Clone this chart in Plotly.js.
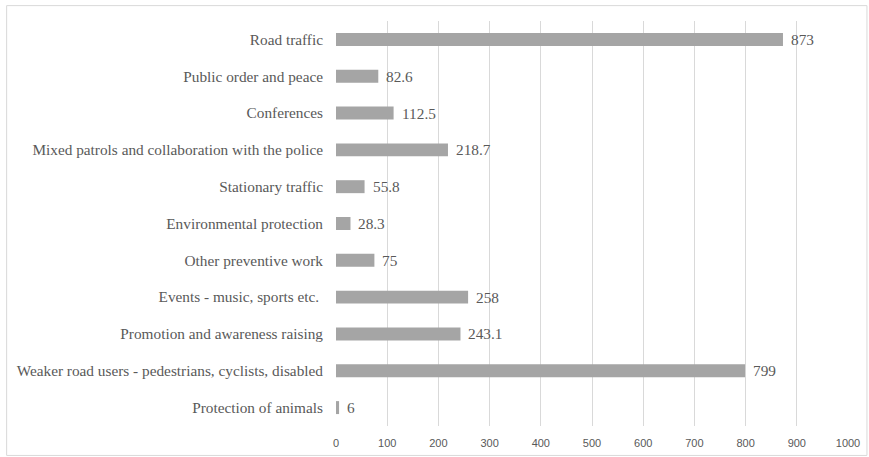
<!DOCTYPE html>
<html><head><meta charset="utf-8">
<script src="https://cdn.plot.ly/plotly-3.0.1.min.js"></script>
<style>body{margin:0;background:#fff}#c{width:869px;height:457px}</style>
</head><body><div id="c"></div>
<script>
const categories = [
  "Road traffic",
  "Public order and peace",
  "Conferences",
  "Mixed patrols and collaboration with the police",
  "Stationary traffic",
  "Environmental protection",
  "Other preventive work",
  "Events - music, sports etc. ",
  "Promotion and awareness raising",
  "Weaker road users - pedestrians, cyclists, disabled",
  "Protection of animals"
];
const values = [873, 82.6, 112.5, 218.7, 55.8, 28.3, 75, 258, 243.1, 799, 6];
const xTicks = [0,100,200,300,400,500,600,700,800,900,1000];

const SERIF = 'Liberation Serif';
const SANS = 'Liberation Sans';
const TXT = '#595959';

const trace = {
  type: 'bar', orientation: 'h',
  y: categories, x: values,
  marker: {color: '#a5a5a5'},
  hoverinfo: 'none'
};
const annotations = categories.map((c, i) => ({
  x: values[i], y: c, xref: 'x', yref: 'y', text: String(values[i]),
  showarrow: false, xanchor: 'left', yanchor: 'middle', xshift: 6,
  font: {family: SERIF, size: 15.3, color: TXT}
}));
const layout = {
  width: 869, height: 457,
  margin: {l: 336, r: 20.5, t: 20.5, b: 30.5},
  paper_bgcolor: '#fff', plot_bgcolor: '#fff',
  bargap: 0.648, showlegend: false,
  font: {family: SERIF, color: TXT},
  xaxis: {range: [0, 1000], tickvals: xTicks, ticktext: xTicks.map(String),
    showgrid: true, gridcolor: '#d9d9d9', gridwidth: 1, zeroline: false, showline: false,
    ticklabelstandoff: 9,
    tickfont: {family: SANS, size: 11, color: TXT}, ticks: '', fixedrange: true},
  yaxis: {autorange: 'reversed', showgrid: false, zeroline: false, showline: false, ticks: '',
    ticklabelstandoff: 12,
    tickfont: {family: SERIF, size: 15.3, color: TXT}, fixedrange: true},
  annotations: annotations,
  shapes: [{type: 'rect', xref: 'paper', yref: 'paper', x0: -0.6433, x1: 1.037, y0: -0.0727, y1: 1.038,
    line: {color: '#d9d9d9', width: 1}, fillcolor: 'rgba(0,0,0,0)', layer: 'below'}]
};
Plotly.newPlot('c', [trace], layout, {staticPlot: true});
</script></body></html>
